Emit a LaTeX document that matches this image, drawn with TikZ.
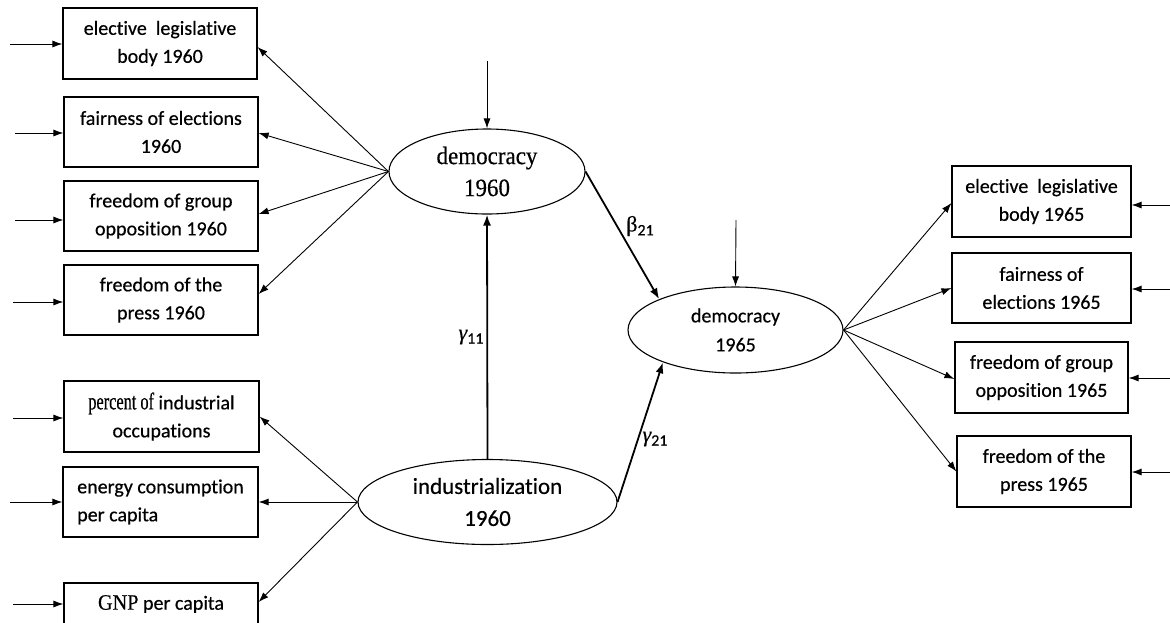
\documentclass[tikz,border=0pt]{standalone}
\usepackage{fontspec}
\setmainfont[Ligatures=CommonOff,FakeBold=0.5]{Carlito}
\newfontfamily\tnr[FakeBold=0.4]{Liberation Serif}
\newfontfamily\tnrnarrow[FakeStretch=0.92,FakeBold=0.4]{Liberation Serif}
\newfontfamily\tnrcond[FakeStretch=0.68,FakeBold=0.4]{Liberation Serif}
\usetikzlibrary{shapes.geometric,arrows.meta}
\begin{document}
\begin{tikzpicture}[x=1pt,y=-1pt,
 obs/.style={draw,line width=1.2pt,rectangle,inner sep=0pt,align=center,font=\fontsize{20}{28}\selectfont},
 lat/.style={draw,line width=1.1pt,ellipse,inner sep=0pt,align=center},
 arr/.style={line width=0.9pt,-{Latex[length=10pt,width=7pt]}},
 strarr/.style={line width=1.8pt,-{Latex[length=11pt,width=8pt]}},
 lbl/.style={inner sep=0pt}
]
\useasboundingbox (0,0) rectangle (1170,622);
\clip (0,0) rectangle (1170,622);

% left observed indicators
\node[obs,minimum width=194pt,minimum height=71pt] (L1) at (160,43.5) {elective\ \ legislative\\body 1960};
\node[obs,minimum width=194pt,minimum height=70pt] (L2) at (161,132) {fairness of elections\\1960};
\node[obs,minimum width=194pt,minimum height=70pt] (L3) at (161,216) {freedom of group\\opposition 1960};
\node[obs,minimum width=194pt,minimum height=70pt] (L4) at (161,300) {freedom of the\\press 1960};
\node[obs,minimum width=195pt,minimum height=71pt] (L5) at (161.5,416.5) {{\tnrcond\fontsize{24}{28}\selectfont percent of} industrial\\occupations};
\node[obs,minimum width=195pt,minimum height=70pt,align=left] (L6) at (160.5,502) {energy consumption\\per capita};
\node[obs,minimum width=194pt,minimum height=42pt] (L7) at (161,604) {{\tnrnarrow\fontsize{22}{28}\selectfont GNP} per capita};

% right observed indicators
\node[obs,minimum width=179pt,minimum height=71pt] (R1) at (1041.5,201.5) {elective\ \ legislative\\body 1965};
\node[obs,minimum width=179pt,minimum height=70pt] (R2) at (1041.5,288) {fairness of\\elections 1965};
\node[obs,minimum width=173pt,minimum height=71pt] (R3) at (1041.5,377.5) {freedom of group\\opposition 1965};
\node[obs,minimum width=174pt,minimum height=71pt] (R4) at (1044,471.5) {freedom of the\\press 1965};

% latent variables
\node[lat,minimum width=196pt,minimum height=85pt,font=\tnrnarrow\fontsize{25}{32}\selectfont] (D60) at (487,171.5) {democracy\\1960};
\node[lat,minimum width=259pt,minimum height=85pt,font=\fontsize{23}{32}\selectfont] (IND) at (487.5,502) {industrialization\\1960};
\node[lat,minimum width=215pt,minimum height=86pt,font=\fontsize{20}{29}\selectfont] (D65) at (735.5,330) {democracy\\1965};

% error terms of the indicators
\coordinate (e1) at (10,44);
\coordinate (e2) at (15,133);
\coordinate (e3) at (15,220);
\coordinate (e4) at (13,302);
\coordinate (e5) at (13,418);
\coordinate (e6) at (10,502);
\coordinate (e7) at (13,604);
\draw[arr] (e1) -- (e1 -| L1.west);
\draw[arr] (e2) -- (e2 -| L2.west);
\draw[arr] (e3) -- (e3 -| L3.west);
\draw[arr] (e4) -- (e4 -| L4.west);
\draw[arr] (e5) -- (e5 -| L5.west);
\draw[arr] (e6) -- (e6 -| L6.west);
\draw[arr] (e7) -- (e7 -| L7.west);

\coordinate (f1) at (1170,205);
\coordinate (f2) at (1170,289);
\coordinate (f3) at (1170,378);
\coordinate (f4) at (1170,472);
\draw[arr] (f1) -- (f1 -| R1.east);
\draw[arr] (f2) -- (f2 -| R2.east);
\draw[arr] (f3) -- (f3 -| R3.east);
\draw[arr] (f4) -- (f4 -| R4.east);

% disturbances
\coordinate (z1) at (487,61);
\coordinate (z2) at (736,220);
\draw[arr] (z1) -- (D60.north);
\draw[arr] (z2) -- (D65.north);

% loadings
\draw[arr] (D60.west) -- ([yshift=-3.5pt]L1.east);
\draw[arr] (D60.west) -- ([yshift=-1pt]L2.east);
\draw[arr] (D60.west) -- ([yshift=2pt]L3.east);
\draw[arr] (D60.west) -- ([yshift=6pt]L4.east);
\draw[arr] (IND.west) -- (L5.east);
\draw[arr] (IND.west) -- (L6.east);
\draw[arr] (IND.west) -- ([yshift=2pt]L7.east);
\draw[arr] (D65.east) -- ([yshift=-1.5pt]R1.west);
\draw[arr] (D65.east) -- (R2.west);
\draw[arr] (D65.east) -- ([yshift=-1.5pt]R3.west);
\draw[arr] (D65.east) -- (R4.west);

% structural paths
\draw[strarr] (IND.north) -- (D60.south);
\draw[strarr] (D60.east) -- (D65.158);
\draw[strarr] (IND.east) -- (D65.204);

\node[lbl] (g11) at (471,337) {{\tnr\itshape\fontsize{22}{22}\selectfont γ}\raisebox{-4pt}{\fontsize{16}{16}\selectfont 11}};
\node[lbl] (b21) at (640,226) {{\tnr\fontsize{22}{22}\selectfont β}\raisebox{-4pt}{\fontsize{16}{16}\selectfont 21}};
\node[lbl] (g21) at (655,439) {{\tnr\itshape\fontsize{22}{22}\selectfont γ}\raisebox{-4pt}{\fontsize{16}{16}\selectfont 21}};
\end{tikzpicture}
\end{document}
